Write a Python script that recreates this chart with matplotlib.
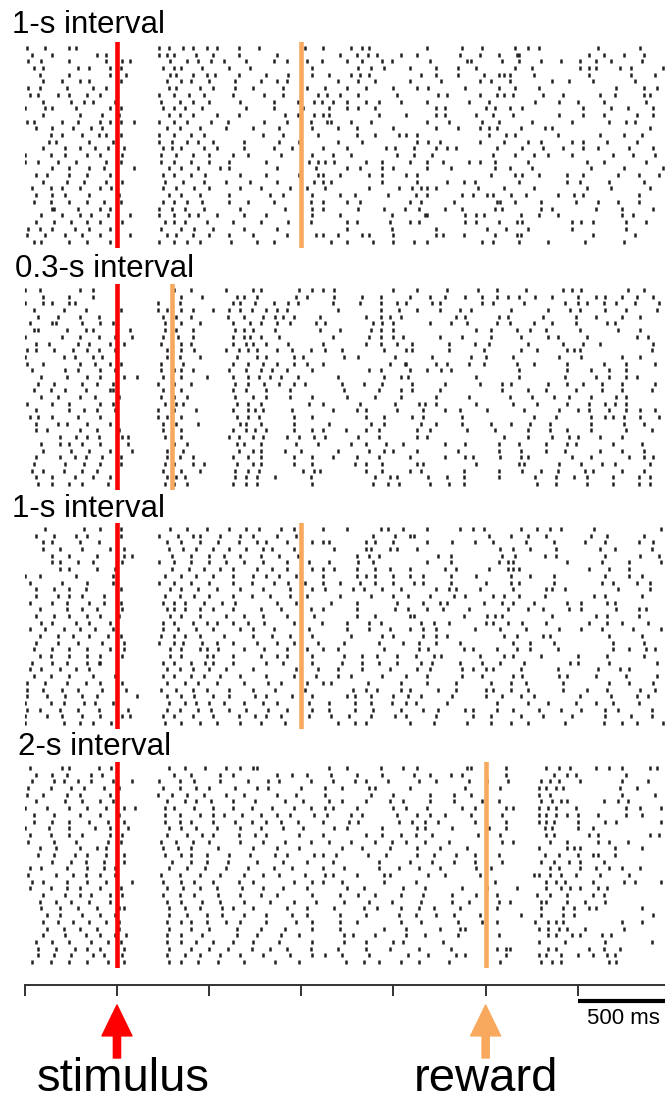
import numpy as np
import matplotlib.pyplot as plt

plt.rcParams['font.family'] = 'Liberation Sans'

# spike times of each trial, in units of 10 ms, relative to stimulus onset
spikes_1s_first = """
-49 -39 -26 -22 23 28 36 41 49 54 66 77 102 112 127 133 137 168 187 198 216 223 229 261 284
-46 -35 -11 -6 23 27 31 43 52 66 87 121 130 136 141 154 163 186 197 207 217 218 256 264 275 286
-48 -41 -26 -6 3 7 29 38 44 51 58 70 85 92 103 111 125 133 144 149 170 190 192 209 218 230 241 251 260 268 285
-45 -40 -21 -15 -4 2 25 31 35 46 61 72 106 131 138 145 159 173 185 195 216 225 251 256 260 273 279 296
-42 -26 -4 5 29 32 41 49 53 66 81 93 106 115 127 132 137 165 173 185 199 207 210 213 226 256 279 292
-40 -30 -20 -15 2 27 35 40 50 64 78 87 92 120 131 140 159 176 197 203 213 236 245 258 281
-48 -42 -27 -13 -6 28 32 45 52 64 74 90 103 113 125 135 150 163 169 189 207 216 229 271 286 293
-47 -43 -32 -26 -16 -9 23 31 39 47 63 80 90 109 114 121 131 152 174 179 197 206 210 215 231 242 262 270 286 289
-40 -25 -18 -13 -1 24 34 41 50 67 85 98 107 111 117 125 135 142 154 168 191 202 227 240 250 264 287
-50 -39 -35 -22 -4 2 25 31 37 46 70 85 101 115 125 131 140 173 178 200 205 213 220 253 268 277 291
-40 -20 -8 1 28 34 41 54 66 91 98 107 112 115 142 157 173 178 195 204 215 240 253 264 282 291
-49 -45 -30 -21 -9 -4 2 9 23 31 38 51 60 80 92 105 114 116 127 138 168 180 198 207 225 247 267 276 281
-44 -35 -24 -14 -8 27 34 45 59 74 88 106 120 130 150 173 185 197 202 206 219 232 236 289
-36 -30 -19 -10 -6 2 23 31 40 47 79 90 109 130 140 153 157 163 202 211 216 239 262 275 285
-37 -33 -15 -2 23 30 38 44 52 69 88 99 120 133 163 169 175 197 210 223 230 247 253 266 282
-40 -28 -20 -12 -5 4 25 30 35 47 54 69 85 95 112 125 146 151 161 173 179 184 206 220 231 242 253 261 278 291
-50 -36 -28 -16 -9 3 24 32 41 50 63 71 89 106 117 127 152 161 171 204 216 226 234 247 269 280 292
-50 -43 -32 -22 -6 2 24 31 40 50 61 81 104 109 113 118 135 144 159 168 177 191 197 205 223 255 264 287
-35 -26 -15 -7 9 28 35 44 56 61 87 108 125 132 144 150 168 181 205 213 225 257 275 296
-44 -38 -26 -16 -4 25 31 40 48 67 81 99 109 112 121 137 144 157 163 203 216 220 229 244 253 272 283 294
-40 -27 -18 -6 3 26 36 47 59 72 87 107 112 116 144 163 179 188 194 218 244 251 267 286
-46 -36 -30 -20 -9 -3 25 32 42 50 67 78 94 103 113 137 153 160 165 168 173 196 210 226 255 268 289
-44 -35 -28 -15 1 28 35 45 61 83 90 106 121 129 147 162 168 187 193 201 204 214 222 239 248 253 283
-45 -36 -26 -16 -7 2 25 31 38 46 61 71 85 105 112 125 132 159 165 183 206 208 216 230 249 261 272 283
-35 -34 -21 -9 -4 23 30 37 47 67 91 106 112 131 145 156 164 178 187 205 209 230 236 260 274 291
-41 -30 -20 -14 -5 7 23 31 39 44 54 69 81 106 121 149 167 168 189 195 199 219 229 239 274 280
-44 -34 -25 -16 -9 3 26 31 37 49 63 78 93 105 125 130 148 159 164 189 195 207 217 220 247 252 258 276 287
-48 -42 -35 -23 -15 -4 24 35 42 52 69 87 125 149 173 201 211 223 247 276
-49 -39 -28 -19 -9 7 27 32 41 50 61 74 92 108 112 120 133 137 150 173 177 188 205 217 219 258 281
-45 -41 -26 -16 -4 23 31 38 45 62 76 85 116 125 139 150 161 168 198 204 218 234 254 275
"""

spikes_03s = """
-50 -42 -20 -13 31 40 59 74 78 99 106 112 118 150 163 179 196 206 222 242 247 252 277 286
-40 -26 -13 35 46 65 69 76 97 103 118 133 143 159 170 178 189 198 206 212 218 227 236 250 260 265 274 282 291
-50 -40 -35 -26 -23 22 34 63 67 75 85 93 98 117 132 143 152 157 171 175 198 204 221 243 250 255 264 271 281 294
-45 -29 -17 2 22 27 35 41 52 61 67 73 81 87 92 120 143 153 163 175 186 192 214 234 246 251 265 276 293
-43 -32 -20 -10 25 32 40 60 69 79 86 90 96 110 135 143 148 154 184 189 207 212 231 249 260 274 284
-47 -35 -33 -19 -9 -2 26 35 45 63 72 78 87 94 108 113 139 144 150 170 181 190 206 213 226 236 249 266 270
-45 -43 -27 -17 -13 7 26 32 41 64 69 74 86 110 121 138 143 150 195 203 217 224 233 251 272 284
-50 -30 -20 -10 -1 8 25 33 41 63 69 72 78 88 117 137 143 150 155 175 187 203 219 234 239 255 282 288
-44 -37 -21 -15 -4 4 24 35 40 63 70 74 81 93 112 135 143 152 160 180 194 202 223 242 253 262 291
-49 -44 -34 -24 -16 -10 -1 27 35 42 59 66 71 76 87 95 105 113 122 145 157 160 180 199 219 228 244 248 251 290
-50 -29 -23 -13 -8 27 34 45 65 76 81 96 101 123 131 151 171 192 200 215 240 252 274 284
-49 -40 -20 -12 -4 2 24 36 63 71 79 87 96 103 112 148 156 157 173 179 191 199 217 226 244 264 276 292
-46 -28 -21 -9 -1 24 31 35 41 61 70 78 84 92 106 137 143 159 168 176 181 218 244 257 267 276
-41 -27 -16 -9 4 11 25 35 49 63 71 77 83 89 98 120 145 154 158 195 218 243 260 267 276 282
-43 -34 -19 -11 -2 22 31 40 64 71 80 88 96 102 122 134 144 160 178 197 209 214 234 244 253 263 274 292
-45 -36 -28 -17 -4 -2 25 35 63 70 81 94 123 142 154 160 175 209 223 233 249 263 274 290
-41 -32 -20 -12 1 24 31 38 64 74 81 94 106 125 140 154 173 191 213 225 237 245 257 271 276
-49 -35 -26 -9 -2 26 32 36 65 71 78 104 112 132 151 164 167 173 195 215 228 244 256 265 270 276
-44 -26 -18 -11 -1 22 31 43 63 71 75 79 95 117 130 135 152 166 178 186 201 221 240 250 256 267 276 284 292
-47 -43 -35 -21 -9 22 27 35 65 71 77 96 106 135 145 160 166 187 226 238 257 265 269 275 284 294
-44 -32 -27 -16 -4 25 32 44 67 70 78 96 115 138 145 165 173 187 203 214 224 235 257 275 286
-44 -38 -20 -11 1 25 35 63 70 75 81 96 106 112 124 135 142 163 170 190 205 223 235 244 257 276 290
-31 -22 -16 -10 3 6 26 35 61 66 74 79 92 99 107 113 131 142 163 168 210 223 236 245 250 262 274
-41 -31 -26 -19 -9 6 31 38 65 69 78 97 109 127 135 146 155 178 189 207 218 233 244 249 269 285
-40 -25 -15 -4 8 27 36 66 74 78 91 100 120 137 145 150 163 185 207 219 233 243 262 274 286
-44 -31 -23 -17 -8 2 27 34 41 63 71 78 96 106 117 130 142 159 178 189 193 208 219 223 247 257 278 286 291
-45 -28 -18 -9 2 26 31 41 47 65 74 78 96 106 129 135 144 163 166 195 218 221 240 252 263 270 289
-46 -40 -29 -19 -11 25 35 45 64 71 77 101 107 110 135 144 159 165 188 207 220 230 239 254 258 274 286
-44 -35 -23 -13 -4 27 32 37 64 70 76 86 105 140 148 152 169 179 188 207 227 238 248 255 269 283 289
-43 -35 -26 -19 -5 26 31 38 63 70 76 106 139 147 153 170 180 188 228 238 255 269 283 289
"""

spikes_1s_second = """
-39 -18 -9 2 29 38 49 61 70 77 89 96 112 125 143 147 155 168 186 193 199 219 228 235 241 259 295
-44 -34 -22 -16 2 23 33 41 45 56 67 74 87 97 139 151 159 161 202 214 223 233 257 266 286
-40 -35 -20 -10 27 35 45 55 66 76 81 92 106 112 115 135 140 150 168 182 194 204 222 237 254 265 283 291
-40 -31 -19 -4 4 28 36 43 52 61 70 79 84 96 118 135 138 148 152 163 208 215 224 238 262 270 290
-35 -26 -11 4 8 30 40 50 58 67 78 88 98 130 137 142 174 181 209 216 232 238 265 284 294
-35 -31 -21 -13 3 23 31 40 50 59 69 79 92 104 115 131 139 168 181 207 212 215 244 263 278 295
-31 -26 -11 -1 30 39 47 56 63 76 84 92 106 112 118 130 140 148 159 178 184 202 212 215 218 256 267 278
-50 -42 -22 -2 26 35 43 52 63 74 81 88 97 112 130 135 140 150 159 166 181 195 214 224 237 265 278 285
-47 -30 -16 -2 23 31 40 50 63 73 85 93 102 112 121 132 140 150 161 166 181 200 214 218 237 263 269 282 289
-44 -34 -26 -17 2 29 35 44 54 67 79 94 106 113 128 134 144 154 173 180 184 197 215 233 236 243 272 289
-44 -32 -26 -19 -7 26 34 42 50 63 73 83 94 103 121 138 150 158 170 183 189 204 210 218 232 259 265 285
-47 -35 -27 -15 -7 2 25 31 37 47 57 64 87 97 116 130 152 166 175 179 199 209 215 226 244 252 266 270
-42 -27 -19 -11 3 27 31 37 45 52 63 78 89 105 112 130 151 158 168 177 191 212 223 231 245 252 271 283 287
-44 -34 -26 -16 -9 1 29 35 45 59 69 79 92 107 130 140 159 161 188 201 205 209 236 260 266 283
-41 -35 -22 -15 -4 25 31 41 49 54 63 71 80 96 111 125 137 143 165 172 180 200 204 212 220 233 256 266 274 288
-47 -39 -29 -20 -12 -2 25 33 43 52 67 74 85 104 125 137 148 159 166 173 194 208 222 240 252 263 280 295
-42 -32 -24 -15 -5 2 24 31 37 45 58 74 84 94 106 127 144 150 166 173 179 210 217 231 235 267 285
-44 -32 -21 -8 4 23 31 36 46 54 63 76 87 96 109 123 142 155 164 173 186 215 224 237 269 286
-45 -35 -26 -16 -4 4 29 35 45 49 55 69 80 92 103 112 120 145 164 169 188 193 206 217 224 239 269 278 287 292
-42 -36 -26 -16 -9 3 29 35 49 52 63 78 87 92 106 123 133 141 152 162 172 176 197 210 215 230 250 266 286
-46 -35 -27 -16 -10 -9 25 31 40 48 52 63 81 90 106 122 133 142 152 165 171 186 198 208 221 246 250 267 293
-47 -41 -31 -22 -15 27 34 41 50 59 74 97 109 120 133 148 163 170 187 193 200 204 219 239 261 273 278
-45 -36 -26 -13 -1 25 31 40 47 56 67 81 96 108 120 127 144 157 168 187 198 215 220 240 244 260 276 293
-49 -39 -27 -17 -9 3 27 37 44 54 69 82 89 103 112 116 136 154 168 184 203 214 222 242 267 278 291
-49 -40 -30 -21 -8 5 24 32 41 49 61 74 86 102 128 135 141 154 159 174 184 200 204 214 223 242 255 266 284 292
-49 -38 -28 -19 -11 11 27 35 42 52 61 75 81 95 106 125 129 138 150 158 165 182 200 209 219 226 251 268 282 288
-50 -36 -29 -18 -12 -2 28 37 43 50 58 69 79 87 104 115 129 138 149 157 162 179 206 223 234 249 260 269 283
-49 -42 -31 -21 -10 6 27 34 44 51 61 70 82 92 106 115 129 139 154 166 174 189 193 206 215 229 241 252 265 272 290
-50 -38 -30 -19 -9 3 7 25 31 41 52 66 75 81 89 104 116 126 138 151 157 173 193 203 219 231 247 265 279 290
-50 -29 -20 -13 -3 26 35 45 54 67 78 91 120 129 135 159 172 190 203 214 223 243 264 274 282 296
"""

spikes_2s = """
-47 -30 -26 -10 -3 28 37 48 59 67 74 76 115 125 143 155 163 190 192 211 233 240 246 260 267 274 289 293
-44 -35 -27 -14 -8 31 40 56 63 87 95 103 116 130 144 161 170 181 187 211 237 244 249 276
-46 -34 -29 -21 -14 -2 8 23 34 42 56 71 82 88 105 117 129 135 147 164 173 191 201 212 230 235 240 251 274 288
-48 -36 -25 -18 -7 1 25 34 43 50 64 76 82 100 113 122 137 140 159 189 208 229 233 238 242 273 282
-49 -40 -27 -20 -4 22 30 38 47 59 69 87 97 113 138 150 170 183 192 229 235 274 292
-44 -28 -19 -9 -2 27 37 43 51 63 75 91 101 115 122 135 148 155 170 183 198 207 230 236 241 244 264 272 277
-50 -38 -26 -16 -6 4 10 26 31 42 52 63 73 84 96 105 113 117 130 150 157 168 187 194 200 211 215 229 234 238 249 276 284 295
-45 -34 -20 -9 1 26 34 45 52 58 68 78 87 94 107 114 127 133 152 163 170 178 192 209 229 233 238 244 250 261 276 285
-45 -35 -26 -15 -5 4 26 34 40 52 64 73 81 89 98 112 126 131 153 160 167 174 194 211 229 233 237 250 265 271 295
-50 -37 -26 -12 -4 6 28 35 43 54 67 78 90 101 118 125 144 163 167 182 202 211 232 236 250 258
-47 -36 -26 -19 -4 3 27 38 46 52 66 75 81 99 112 135 144 154 162 171 196 208 233 237 256 261 289 294
-48 -34 -22 -5 2 24 32 41 50 67 79 91 105 115 127 140 149 157 167 180 209 215 235 244 261 267 277
-42 -33 -20 -11 -6 25 33 40 55 74 87 99 122 133 148 163 175 190 229 244 248 251 270 285
-43 -34 -23 -16 -6 4 26 35 40 49 61 72 86 92 107 112 119 136 146 163 172 184 194 207 232 240 250 258 261 270
-35 -25 -17 -7 4 30 40 49 60 76 90 103 117 142 159 171 183 194 209 230 237 245 251 264
-47 -41 -27 -16 -7 -1 28 38 48 59 71 85 95 112 123 142 153 164 175 195 203 235 240 251 260 267 274 284
-48 -33 -24 -17 -9 -1 24 34 45 56 69 79 88 102 113 117 130 145 148 169 178 197 200 226 229 235 241 249 262 278
-46 -40 -27 -16 -6 8 25 35 42 52 66 74 96 106 112 122 145 162 205 233 238 243 258 275 281 295
-47 -36 -27 -20 -9 2 27 36 45 54 68 79 90 103 125 134 155 167 187 201 217 233 241 246 251 261 266
-40 -28 -20 -14 -4 3 25 34 42 55 67 78 87 106 121 131 140 154 166 182 195 206 228 235 244 258 264
-42 -33 -25 -15 -4 27 35 46 56 69 83 96 108 123 137 149 165 182 191 207 213 230 233 244 254 265
-41 -31 -21 -11 1 4 28 37 45 57 63 74 92 103 118 134 141 154 164 172 186 206 230 242 248 256 260 285
-38 -31 -19 -9 -1 28 38 49 57 69 81 95 103 121 135 153 162 173 183 197 219 230 242 248 291
-40 -32 -24 -15 -6 1 27 35 40 49 59 67 81 97 106 121 130 154 165 185 198 206 227 234 238 242 274 285
-38 -29 -20 -11 1 28 40 50 65 78 91 106 121 145 157 175 186 189 229 234 240 244 254 275
-40 -28 -17 -9 -1 5 27 35 46 65 76 89 99 123 128 140 157 167 185 207 234 238 247 251 263 268
-44 -35 -26 -14 -5 2 27 35 43 52 63 74 88 106 123 135 150 155 177 200 229 243 265 290
-43 -33 -23 -16 -9 4 28 40 50 60 73 83 92 105 120 135 148 164 181 200 206 211 213 234 238 256 264 273
-43 -34 -25 -13 -7 3 27 37 45 56 67 79 94 106 113 122 137 158 169 184 189 200 211 229 233 241 250 258 266 270
-46 -36 -26 -16 -5 4 28 35 44 55 69 86 99 124 134 142 154 164 180 208 230 236 241 267 271
"""

titles = ['1-s interval', '0.3-s interval', '1-s interval', '2-s interval']
reward_ms = [1000, 300, 1000, 2000]
blocks = [spikes_1s_first, spikes_03s, spikes_1s_second, spikes_2s]
tick_ms = np.arange(-500, 3000, 500)
events = [(0, 'stimulus'), (2000, 'reward')]

red = '#ff0000'
orange = '#f8a95e'


def parse(block):
    return [np.array(line.split(), dtype=float) * 10 for line in block.strip().splitlines()]


W, H = 665, 1101
fig = plt.figure(figsize=(W / 100, H / 100), dpi=100)

px_per_ms = 0.18433
left = 24.8 / W
xlim = (-500, -500 + (W - 24.8) / px_per_ms)

panel_tops = [42, 284, 523, 762]
panel_h = 206
title_base = [33, 277, 517, 755]
title_x = [12, 15, 12, 18]

for i, block in enumerate(blocks):
    trials = parse(block)
    top = panel_tops[i]
    ax = fig.add_axes([left, 1 - (top + panel_h) / H, 1 - left, panel_h / H])
    ax.eventplot(trials, lineoffsets=np.arange(len(trials)), linelengths=0.6,
                 linewidths=1.8, colors='#202020')
    ax.axvline(0, color=red, lw=3.3)
    ax.axvline(reward_ms[i], color=orange, lw=3.3)
    ax.set_xlim(xlim)
    ax.set_ylim(len(trials) - 0.1, -0.9)
    ax.axis('off')
    fig.text(title_x[i] / W, 1 - title_base[i] / H, titles[i], fontsize=22.5, va='baseline')

# time axis at the bottom
axis_y = 985
axb = fig.add_axes([left, 0, 1 - left, (H - axis_y) / H])
axb.set_xlim(xlim)
axb.set_ylim(H - axis_y, 0)
for s in ['bottom', 'left', 'right']:
    axb.spines[s].set_visible(False)
axb.spines['top'].set_linewidth(1.4)
axb.spines['top'].set_color('#333333')
axb.xaxis.tick_top()
axb.set_xticks(tick_ms)
axb.tick_params(axis='x', direction='in', length=8, width=1.4, color='#333333', labeltop=False)
axb.set_yticks([])
axb.patch.set_visible(False)

# scale bar
axb.plot([2500, 3000], [16, 16], color='black', lw=3, solid_capstyle='butt')
axb.text(2750, 34, '500 ms', ha='center', va='center', fontsize=16)

# event arrows
for (t, label), c, dx in zip(events, [red, orange], [35, 0]):
    axb.annotate('', xy=(t, 20), xytext=(t, 73),
                 arrowprops=dict(arrowstyle='simple,head_length=1.03,head_width=1.0,tail_width=0.24',
                                 mutation_scale=21.6, color=c, shrinkA=0, shrinkB=0))
    axb.text(t + dx, 106, label, ha='center', va='baseline', fontsize=34)

fig.savefig('out.png', dpi=100)
